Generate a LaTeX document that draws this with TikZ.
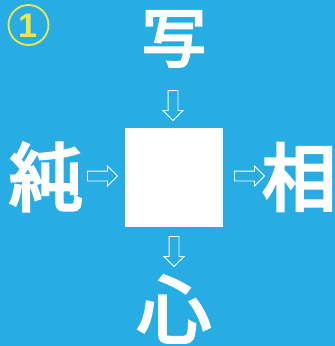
\documentclass[tikz,border=0pt]{standalone}
\usepackage{fontspec}
\setmainfont{Liberation Sans}
\newfontfamily\cjk[FakeBold=4]{Noto Sans CJK JP}
\newfontfamily\numfont{Liberation Sans Bold}
\usetikzlibrary{shapes.arrows}
\definecolor{bgblue}{RGB}{40,172,228}
\definecolor{ylw}{RGB}{240,232,70}
\tikzset{
  kanji/.style={text=white, font=\cjk\fontsize{74}{74}\selectfont, inner sep=0pt},
  hollowarrow/.style={single arrow, draw=white, line width=0.9pt, fill=none,
    minimum height=30pt, minimum width=19pt, single arrow head extend=5pt,
    inner xsep=0pt, inner ysep=4.5pt, single arrow head indent=0pt},
}
\begin{document}
\begin{tikzpicture}[x=1pt,y=-1pt]
\fill[bgblue] (0,0) rectangle (335,346);
\useasboundingbox (0,0) rectangle (335,346);
% circled number
\node[circle, draw=ylw, line width=1.8pt, minimum size=40pt, inner sep=0pt] (num) at (28.5,25) {};
\node[text=ylw, font=\numfont\fontsize{34}{34}\selectfont, inner sep=0pt] (numtxt) at (27.5,26) {1};
% center square
\node[fill=white, minimum width=98pt, minimum height=99pt, inner sep=0pt] (box) at (174,177) {};
% characters
\node[kanji, font=\cjk\fontsize{64}{64}\selectfont] (top) at (174,39) {写};
\node[kanji] (left) at (46,177) {純};
\node[kanji] (right) at (299,177) {相};
\node[kanji] (bottom) at (174,309) {心};
% arrows
\node[hollowarrow] (aleft) at (100,176) {};
\node[hollowarrow] (aright) at (247,176) {};
\node[hollowarrow, rotate=-90] (atop) at (173,103) {};
\node[hollowarrow, rotate=-90] (abot) at (174,249) {};
\end{tikzpicture}
\end{document}
